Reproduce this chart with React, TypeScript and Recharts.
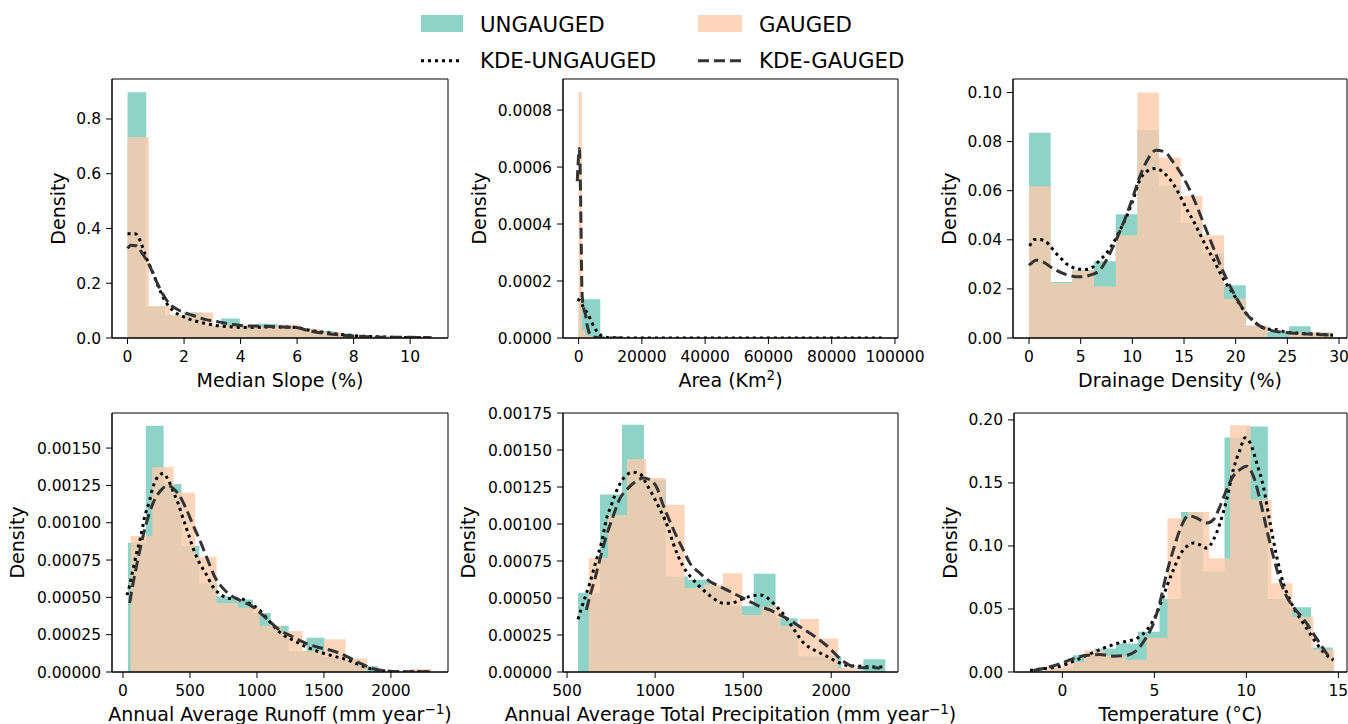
import React from 'react';
import { ComposedChart, XAxis, YAxis, Area, Line, ReferenceArea, Label } from 'recharts';

const TEAL = '#8dd3c7';
const PEACH = '#fccbaa';
const FONT = '"DejaVu Sans", sans-serif';

type Pt = [number, number];

// ---- Median slope (%) ----
const slopeUngRange = [0, 10.59];
const slopeUngHist = [0.898, 0.115, 0.083, 0.093, 0.046, 0.071, 0.046, 0.052, 0.046, 0.034, 0.026, 0.016, 0.0085, 0.006, 0.0037, 0.0024];
const slopeGauRange = [0, 10.59];
const slopeGauHist = [0.734, 0.116, 0.083, 0.093, 0.046, 0.046, 0.04, 0.049, 0.034, 0.022, 0.01, 0.006, 0.005, 0.006];
const slopeUngKde: Pt[] = [[0, 0.381], [0.27, 0.381], [0.44, 0.357], [0.65, 0.296], [0.89, 0.241], [1.12, 0.18], [1.36, 0.13], [1.6, 0.101], [2.07, 0.074], [2.54, 0.058], [3.13, 0.046], [3.72, 0.04], [4.31, 0.038], [4.9, 0.04], [5.5, 0.04], [5.97, 0.038], [6.44, 0.028], [7.03, 0.02], [7.62, 0.012], [8.22, 0.007], [8.81, 0.005], [9.4, 0.0024], [9.99, 0.0012], [10.7, 0.0012]];
const slopeGauKde: Pt[] = [[0, 0.327], [0.12, 0.339], [0.3, 0.337], [0.53, 0.308], [0.77, 0.266], [1.0, 0.211], [1.24, 0.162], [1.48, 0.125], [1.83, 0.101], [2.3, 0.083], [2.78, 0.067], [3.25, 0.058], [3.72, 0.049], [4.31, 0.044], [4.9, 0.043], [5.5, 0.04], [5.97, 0.038], [6.44, 0.026], [7.03, 0.016], [7.62, 0.01], [8.45, 0.005], [9.28, 0.0024], [9.99, 0.0024], [10.76, 0.0012]];

// ---- Area (Km2) ----
const areaUngRange = [0, 96130];
const areaUngHist = [0.000136, 0.000003, 0.000001, 0.0000005, 0.0000003, 0.0000002, 0, 0, 0, 0, 0, 0, 0, 0.0000002];
const areaGauRange = [0, 12636];
const areaGauHist = [0.000863, 0.00003, 0.00001, 0.000006, 0.000004, 0.000003, 0.000002, 0.000001, 0.000001, 0.000001, 0, 0.000001];
const areaUngKde: Pt[] = [[-400, 0.000135], [316, 0.000132], [1579, 0.000107], [3158, 0.00008], [4211, 0.000053], [5579, 0.000027], [7368, 0.000007], [10000, 0.000001], [20000, 0], [40000, 0], [60000, 0], [80000, 0], [95800, 0]];
const areaGauKde: Pt[] = [[-420, 0.00055], [-210, 0.0006], [0, 0.00064], [210, 0.000665], [420, 0.00062], [630, 0.0005], [840, 0.00033], [1050, 0.00017], [1260, 0.00013], [1700, 0.0001], [2100, 0.000086], [2800, 0.00004], [3500, 0.000015], [4700, 0.0000035], [6500, 0.000001], [9000, 0], [14000, 0]];

// ---- Drainage density (%) ----
const drainUngRange = [0, 29.36];
const drainUngHist = [0.0836, 0.0228, 0.0276, 0.0313, 0.0504, 0.0847, 0.0618, 0.0469, 0.0344, 0.0215, 0.005, 0.0024, 0.0048, 0.0022];
const drainGauRange = [0, 29.36];
const drainGauHist = [0.0618, 0.0224, 0.0274, 0.021, 0.0419, 0.1, 0.0735, 0.0578, 0.0419, 0.016, 0.005, 0, 0.0022, 0.0022];
const drainUngKde: Pt[] = [[0.06, 0.0375], [0.55, 0.0401], [1.03, 0.0401], [2.0, 0.0378], [2.48, 0.0351], [2.97, 0.033], [3.61, 0.0303], [4.26, 0.0287], [4.9, 0.028], [5.55, 0.0279], [6.19, 0.0289], [6.84, 0.0317], [7.48, 0.0344], [8.13, 0.0385], [8.77, 0.0436], [9.42, 0.0493], [10.06, 0.0561], [10.71, 0.0643], [11.35, 0.0677], [12.16, 0.069], [12.81, 0.0681], [13.29, 0.0663], [13.94, 0.0629], [14.58, 0.0582], [15.23, 0.0527], [15.87, 0.048], [16.52, 0.0425], [17.16, 0.0371], [17.81, 0.0323], [18.45, 0.0269], [19.1, 0.0221], [19.74, 0.0181], [20.39, 0.0137], [21.03, 0.0099], [21.68, 0.0072], [22.32, 0.0049], [22.97, 0.0038], [23.94, 0.0034], [24.9, 0.0024], [25.87, 0.002], [26.84, 0.0018], [28.13, 0.0015], [29.42, 0.0011]];
const drainGauKde: Pt[] = [[0, 0.0296], [0.71, 0.0317], [1.35, 0.031], [2.32, 0.0283], [3.61, 0.0258], [4.9, 0.0249], [6.19, 0.026], [6.84, 0.0276], [7.48, 0.0317], [8.13, 0.0371], [8.77, 0.0432], [9.42, 0.05], [10.06, 0.0575], [10.71, 0.0656], [11.35, 0.0717], [12.32, 0.0765], [13.13, 0.0758], [13.94, 0.0717], [14.9, 0.0656], [15.87, 0.0575], [16.52, 0.0507], [17.16, 0.0439], [17.81, 0.0371], [18.45, 0.0303], [19.1, 0.0242], [19.74, 0.0188], [20.39, 0.014], [21.03, 0.0099], [21.68, 0.0069], [22.65, 0.0042], [23.61, 0.0029], [24.9, 0.0022], [26.19, 0.0018], [27.81, 0.0015], [29.42, 0.0011]];

// ---- Annual average runoff ----
const runoffUngRange = [37, 2303];
const runoffUngHist = [0.000866, 0.00165, 0.00126, 0.000846, 0.000593, 0.000508, 0.000486, 0.000396, 0.00031, 0.000141, 0.00023, 0.0001, 0.000083, 0.000038, 0.000002, 0.000002, 0.000005];
const runoffGauRange = [57, 2304];
const runoffGauHist = [0.000911, 0.001374, 0.0012, 0.000772, 0.000463, 0.000432, 0.000309, 0.000275, 0.00014, 0.00022, 0.00009, 0, 0, 0.00002];
const runoffUngKde: Pt[] = [[30, 0.000515], [50, 0.000582], [75, 0.000687], [100, 0.00079], [130, 0.000895], [162, 0.00104], [199, 0.00115], [224, 0.00124], [262, 0.00131], [299, 0.00133], [336, 0.00129], [374, 0.00121], [411, 0.00113], [448, 0.00103], [486, 0.00093], [523, 0.00083], [573, 0.000727], [618, 0.00066], [672, 0.00057], [735, 0.000515], [797, 0.000492], [872, 0.000492], [946, 0.000459], [1021, 0.000414], [1096, 0.000336], [1183, 0.000257], [1270, 0.000213], [1370, 0.000168], [1469, 0.000134], [1569, 0.000107], [1669, 0.000083], [1743, 0.000056], [1818, 0.000029], [1918, 0.000011], [2017, 0.000002], [2291, 0.000001]];
const runoffGauKde: Pt[] = [[50, 0.000463], [75, 0.000593], [100, 0.000705], [137, 0.000862], [174, 0.000996], [224, 0.00113], [286, 0.00122], [336, 0.00125], [374, 0.00123], [423, 0.00118], [473, 0.00109], [523, 0.000985], [573, 0.000884], [623, 0.000772], [685, 0.000638], [772, 0.000537], [872, 0.000481], [971, 0.000436], [1071, 0.000358], [1171, 0.00028], [1270, 0.000235], [1370, 0.00019], [1469, 0.000163], [1569, 0.000141], [1669, 0.000105], [1768, 0.00006], [1868, 0.000022], [1968, 0.000007], [2067, 0.000002], [2291, 0.000001]];

// ---- Annual average total precipitation ----
const precipUngRange = [562.5, 2307];
const precipUngHist = [0.000535, 0.0012, 0.00167, 0.0013, 0.000646, 0.000623, 0.000578, 0.000446, 0.000664, 0.000363, 0.000107, 0.000107, 0.00001, 0.000086];
const precipGauRange = [623, 2148];
const precipGauHist = [0.00077, 0.00106, 0.00144, 0.00131, 0.00113, 0.000567, 0.000589, 0.000668, 0.000385, 0.000442, 0.00031, 0.000358, 0.000227, 0.000027];
const precipUngKde: Pt[] = [[562, 0.000356], [591, 0.000465], [629, 0.0006], [667, 0.000759], [695, 0.000872], [723, 0.00103], [752, 0.00113], [780, 0.00122], [809, 0.00129], [837, 0.00133], [875, 0.00135], [913, 0.00134], [951, 0.00127], [989, 0.00119], [1027, 0.0011], [1055, 0.00103], [1074, 0.000974], [1102, 0.000872], [1131, 0.000782], [1159, 0.000714], [1216, 0.000623], [1273, 0.000555], [1330, 0.000499], [1386, 0.000465], [1434, 0.000465], [1481, 0.000487], [1538, 0.00051], [1595, 0.000521], [1652, 0.000487], [1689, 0.000442], [1727, 0.000392], [1765, 0.000329], [1803, 0.000261], [1841, 0.000199], [1898, 0.000152], [1973, 0.000107], [2049, 0.000061], [2106, 0.000041], [2163, 0.000039], [2229, 0.000034], [2295, 0.000034]];
const precipGauKde: Pt[] = [[610, 0.000419], [629, 0.00051], [657, 0.000623], [686, 0.000759], [723, 0.000918], [761, 0.00105], [799, 0.00117], [837, 0.00123], [894, 0.00129], [932, 0.00131], [970, 0.0013], [1008, 0.00125], [1045, 0.00113], [1083, 0.00102], [1121, 0.000918], [1159, 0.000827], [1197, 0.000736], [1254, 0.000668], [1311, 0.000612], [1367, 0.000578], [1424, 0.000544], [1481, 0.00051], [1538, 0.000476], [1595, 0.000442], [1652, 0.000419], [1708, 0.000385], [1765, 0.000351], [1822, 0.000306], [1879, 0.000261], [1936, 0.000215], [1992, 0.000159], [2049, 0.000091], [2106, 0.000045], [2163, 0.000029], [2220, 0.000029], [2277, 0.000027]];

// ---- Temperature (°C) ----
const tempUngRange = [-1.79, 14.7];
const tempUngHist = [0.0013, 0.0027, 0.0133, 0.0186, 0.0226, 0.0319, 0.0579, 0.127, 0.08, 0.186, 0.1947, 0.0579, 0.0513, 0.0194];
const tempGauRange = [-1.08, 14.77];
const tempGauHist = [0.004, 0.008, 0.0173, 0.013, 0.0098, 0.0271, 0.122, 0.127, 0.0903, 0.1957, 0.1368, 0.0704, 0.0438, 0.0178];
const tempUngKde: Pt[] = [[-1.76, 0.0013], [-1.03, 0.0027], [-0.31, 0.004], [0.42, 0.0074], [1.14, 0.012], [1.87, 0.0167], [2.41, 0.0199], [2.95, 0.0226], [3.5, 0.0244], [4.04, 0.0266], [4.58, 0.0332], [4.95, 0.0412], [5.31, 0.0531], [5.67, 0.0677], [6.03, 0.081], [6.39, 0.0929], [6.76, 0.0996], [7.12, 0.1023], [7.48, 0.1009], [7.84, 0.0983], [8.21, 0.1049], [8.57, 0.1182], [8.93, 0.1368], [9.29, 0.1607], [9.66, 0.1766], [9.93, 0.1859], [10.2, 0.1819], [10.56, 0.166], [10.92, 0.1474], [11.29, 0.1182], [11.65, 0.0916], [12.01, 0.0704], [12.37, 0.0571], [12.74, 0.0465], [13.1, 0.0385], [13.46, 0.0305], [13.82, 0.0226], [14.18, 0.0159], [14.73, 0.0093]];
const tempGauKde: Pt[] = [[-1.58, 0.0013], [-0.85, 0.0035], [-0.13, 0.0066], [0.6, 0.0106], [1.32, 0.0133], [2.05, 0.0138], [2.77, 0.0125], [3.5, 0.0133], [4.04, 0.0173], [4.58, 0.0279], [4.95, 0.0385], [5.31, 0.0558], [5.67, 0.0784], [6.03, 0.0969], [6.39, 0.1129], [6.85, 0.124], [7.3, 0.1222], [7.84, 0.1182], [8.21, 0.1209], [8.57, 0.1315], [8.93, 0.1448], [9.29, 0.1554], [9.66, 0.1607], [10.02, 0.1633], [10.38, 0.1554], [10.74, 0.1368], [11.11, 0.1129], [11.47, 0.0916], [11.83, 0.073], [12.19, 0.0598], [12.55, 0.0518], [12.92, 0.0452], [13.28, 0.0385], [13.64, 0.0305], [14.0, 0.0226], [14.37, 0.0146], [14.73, 0.0098]];

// tick labels
const slopeXTicks = [0, 2, 4, 6, 8, 10];
const slopeYTicks = [0, 0.2, 0.4, 0.6, 0.8];
const areaXTicks = [0, 20000, 40000, 60000, 80000, 100000];
const areaYTicks = [0, 0.0002, 0.0004, 0.0006, 0.0008];
const drainXTicks = [0, 5, 10, 15, 20, 25, 30];
const drainYTicks = [0, 0.02, 0.04, 0.06, 0.08, 0.1];
const runoffXTicks = [0, 500, 1000, 1500, 2000];
const runoffYTicks = [0, 0.00025, 0.0005, 0.00075, 0.001, 0.00125, 0.0015];
const precipXTicks = [500, 1000, 1500, 2000];
const precipYTicks = [0, 0.00025, 0.0005, 0.00075, 0.001, 0.00125, 0.0015, 0.00175];
const tempXTicks = [0, 5, 10, 15];
const tempYTicks = [0, 0.05, 0.1, 0.15, 0.2];

const YW = 110;
const MT = 15;
const MR = 90;
const XH = 60;

const DOTS = '3 4';
const DASHES = '11 5';
const LW = 3;
const LABEL_SIZE = 19;

function steps(range: number[], heights: number[]) {
  const w = (range[1] - range[0]) / heights.length;
  const pts = heights.map((h, i) => ({ x: range[0] + i * w, y: h }));
  pts.push({ x: range[1], y: heights[heights.length - 1] });
  return pts;
}

const toObj = (pts: Pt[]) => pts.map(([x, y]) => ({ x, y }));

interface PanelCfg {
  left: number;
  top: number;
  w: number;
  h: number;
  xDomain: [number, number];
  yDomain: [number, number];
  xTicks: number[];
  yTicks: number[];
  yDigits: number;
  ungRange: number[];
  ungHist: number[];
  gauRange: number[];
  gauHist: number[];
  ungKde: Pt[];
  gauKde: Pt[];
  xLabel: React.ReactNode;
  yLabelOffset: number;
}

const sup = (s: string, tail: string) => (
  <>
    <tspan dy={-7} fontSize={13.5}>{s}</tspan>
    <tspan dy={7}>{tail}</tspan>
  </>
);

const panels: PanelCfg[] = [
  {
    left: 112, top: 79, w: 336, h: 259,
    xDomain: [-0.55, 11.34], yDomain: [0, 0.946],
    xTicks: slopeXTicks, yTicks: slopeYTicks, yDigits: 1,
    ungRange: slopeUngRange, ungHist: slopeUngHist, gauRange: slopeGauRange, gauHist: slopeGauHist,
    ungKde: slopeUngKde, gauKde: slopeGauKde,
    xLabel: 'Median Slope (%)', yLabelOffset: 47,
  },
  {
    left: 563, top: 79, w: 335, h: 259,
    xDomain: [-4930, 100960], yDomain: [0, 0.000909],
    xTicks: areaXTicks, yTicks: areaYTicks, yDigits: 4,
    ungRange: areaUngRange, ungHist: areaUngHist, gauRange: areaGauRange, gauHist: areaGauHist,
    ungKde: areaUngKde, gauKde: areaGauKde,
    xLabel: <>Area (Km{sup('2', ')')}</>, yLabelOffset: 77,
  },
  {
    left: 1013, top: 79, w: 334, h: 259,
    xDomain: [-1.55, 30.77], yDomain: [0, 0.1055],
    xTicks: drainXTicks, yTicks: drainYTicks, yDigits: 2,
    ungRange: drainUngRange, ungHist: drainUngHist, gauRange: drainGauRange, gauHist: drainGauHist,
    ungKde: drainUngKde, gauKde: drainGauKde,
    xLabel: 'Drainage Density (%)', yLabelOffset: 57,
  },
  {
    left: 112, top: 413, w: 336, h: 259,
    xDomain: [-82, 2426], yDomain: [0, 0.001735],
    xTicks: runoffXTicks, yTicks: runoffYTicks, yDigits: 5,
    ungRange: runoffUngRange, ungHist: runoffUngHist, gauRange: runoffGauRange, gauHist: runoffGauHist,
    ungKde: runoffUngKde, gauKde: runoffGauKde,
    xLabel: <>Annual Average Runoff (mm year{sup('\u22121', ')')}</>, yLabelOffset: 88.5,
  },
  {
    left: 563, top: 413, w: 335, h: 259,
    xDomain: [477, 2379], yDomain: [0, 0.00175],
    xTicks: precipXTicks, yTicks: precipYTicks, yDigits: 5,
    ungRange: precipUngRange, ungHist: precipUngHist, gauRange: precipGauRange, gauHist: precipGauHist,
    ungKde: precipUngKde, gauKde: precipGauKde,
    xLabel: <>Annual Average Total Precipitation (mm year{sup('\u22121', ')')}</>, yLabelOffset: 88,
  },
  {
    left: 1014, top: 413, w: 333, h: 259,
    xDomain: [-2.63, 15.47], yDomain: [0, 0.2055],
    xTicks: tempXTicks, yTicks: tempYTicks, yDigits: 2,
    ungRange: tempUngRange, ungHist: tempUngHist, gauRange: tempGauRange, gauHist: tempGauHist,
    ungKde: tempUngKde, gauKde: tempGauKde,
    xLabel: 'Temperature (\u00b0C)', yLabelOffset: 57,
  },
];

const tickStyle = { fontSize: 15.5, fill: '#000', fontFamily: FONT };

function HistPanel({ p }: { p: PanelCfg }) {
  const ung = steps(p.ungRange, p.ungHist);
  const gau = steps(p.gauRange, p.gauHist);
  return (
    <div style={{ position: 'absolute', left: p.left - YW, top: p.top - MT }}>
      <ComposedChart
        width={YW + p.w + MR}
        height={MT + p.h + XH}
        margin={{ top: MT, right: MR, bottom: 0, left: 0 }}
      >
        <XAxis
          type="number"
          dataKey="x"
          domain={p.xDomain}
          ticks={p.xTicks}
          interval={0}
          allowDataOverflow
          height={XH}
          tickSize={6}
          tickMargin={7}
          tick={tickStyle}
          tickLine={{ stroke: '#000' }}
          axisLine={{ stroke: '#000' }}
        >
          <Label
            content={(lp: any) => {
              const vb = lp.viewBox;
              return (
                <text x={vb.x + vb.width / 2} y={vb.y + 49} textAnchor="middle" fontSize={LABEL_SIZE} fill="#000" fontFamily={FONT}>
                  {p.xLabel}
                </text>
              );
            }}
          />
        </XAxis>
        <YAxis
          type="number"
          domain={p.yDomain}
          ticks={p.yTicks}
          interval={0}
          allowDataOverflow
          width={YW}
          tickSize={6}
          tickMargin={5}
          tick={tickStyle}
          tickLine={{ stroke: '#000' }}
          axisLine={{ stroke: '#000' }}
          tickFormatter={(v: number) => v.toFixed(p.yDigits)}
        >
          <Label
            content={(lp: any) => {
              const vb = lp.viewBox;
              const x = vb.x + vb.width - p.yLabelOffset;
              const y = vb.y + vb.height / 2;
              return (
                <text x={x} y={y} transform={`rotate(-90, ${x}, ${y})`} textAnchor="middle" fontSize={LABEL_SIZE} fill="#000" fontFamily={FONT}>
                  Density
                </text>
              );
            }}
          />
        </YAxis>
        <Area data={ung} dataKey="y" type="stepAfter" stroke="none" fill={TEAL} fillOpacity={1} isAnimationActive={false} />
        <Area data={gau} dataKey="y" type="stepAfter" stroke="none" fill={PEACH} fillOpacity={0.8} isAnimationActive={false} />
        <Line data={toObj(p.ungKde)} dataKey="y" type="monotone" stroke="#000" strokeWidth={LW} strokeDasharray={DOTS} dot={false} activeDot={false} isAnimationActive={false} />
        <Line data={toObj(p.gauKde)} dataKey="y" type="monotone" stroke="#333" strokeWidth={LW} strokeDasharray={DASHES} dot={false} activeDot={false} isAnimationActive={false} />
        <ReferenceArea x1={p.xDomain[0]} x2={p.xDomain[1]} y1={p.yDomain[0]} y2={p.yDomain[1]} fill="none" stroke="#000" strokeWidth={1} ifOverflow="visible" />
      </ComposedChart>
    </div>
  );
}

function LegendBlock() {
  return (
    <svg width={1348} height={76} style={{ position: 'absolute', left: 0, top: 0 }} fontFamily={FONT}>
      <rect x={421} y={15} width={42} height={17} fill={TEAL} />
      <text x={480} y={31.7} fontSize={21.3} fill="#000">UNGAUGED</text>
      <rect x={698} y={15} width={44} height={17} fill={PEACH} fillOpacity={0.8} />
      <text x={759} y={31.7} fontSize={21.3} fill="#000">GAUGED</text>
      <line x1={421} x2={463} y1={60.7} y2={60.7} stroke="#000" strokeWidth={LW} strokeDasharray={DOTS} />
      <text x={480} y={68.3} fontSize={21.3} fill="#000">KDE-UNGAUGED</text>
      <line x1={698} x2={742} y1={60.7} y2={60.7} stroke="#333" strokeWidth={LW} strokeDasharray={DASHES} />
      <text x={759} y={68.3} fontSize={21.3} fill="#000">KDE-GAUGED</text>
    </svg>
  );
}

export default function App() {
  return (
    <div
      style={{
        position: 'absolute',
        left: 0,
        top: 0,
        width: 1348,
        height: 724,
        overflow: 'hidden',
        background: '#fff',
        fontFamily: FONT,
      }}
    >
      {panels.map((p, i) => (
        <HistPanel key={i} p={p} />
      ))}
      <LegendBlock />
    </div>
  );
}
